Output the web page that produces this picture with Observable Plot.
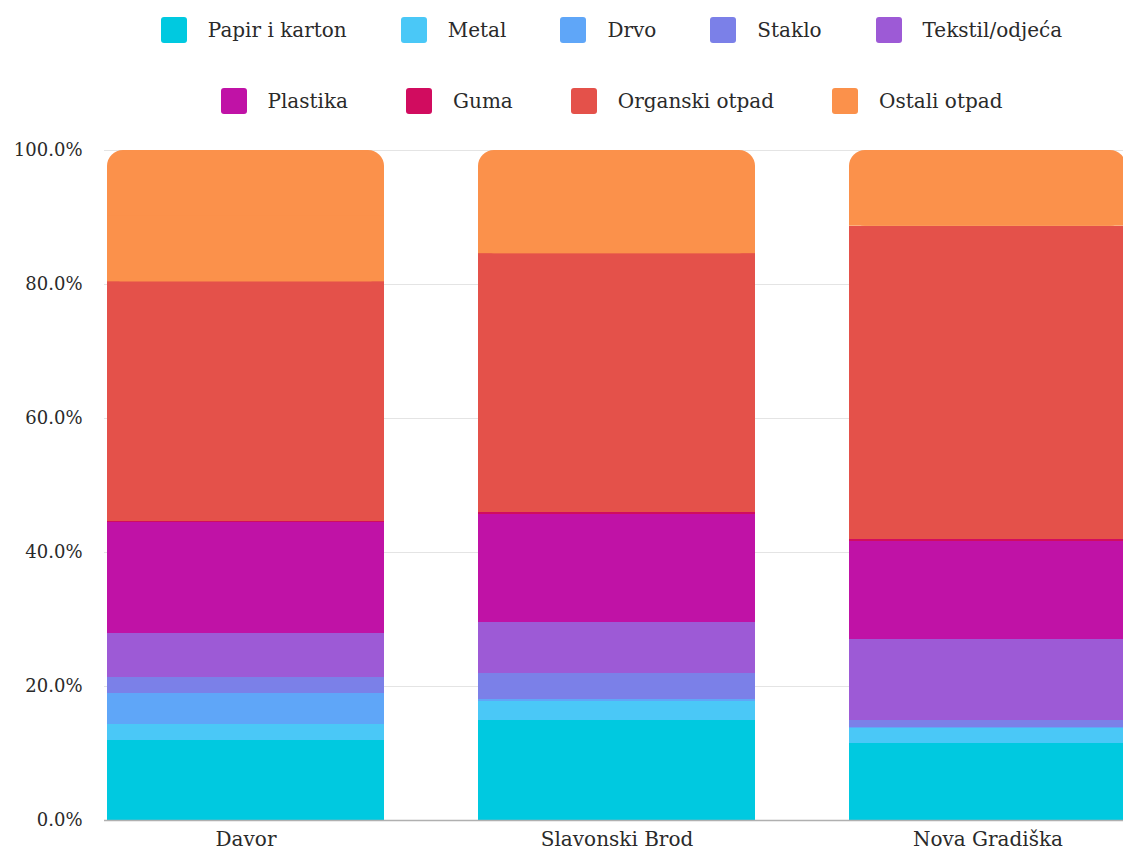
<!DOCTYPE html>
<html>
<head>
<meta charset="utf-8">
<script src="https://cdn.jsdelivr.net/npm/d3@7"></script>
<script src="https://cdn.jsdelivr.net/npm/@observablehq/plot@0.6"></script>
<style>
  html, body { margin: 0; padding: 0; background: #fff; overflow: hidden; }
  body { width: 1123px; height: 854px; font-family: "DejaVu Serif", serif; }
  #legend { height: 128px; box-sizing: border-box; padding-left: 100px; padding-top: 15px; }
  .row { display: flex; justify-content: center; align-items: center; gap: 58px; height: 30px; }
  .row.r1 { gap: 54px; }
  .row + .row { margin-top: 41px; }
  .item { display: flex; align-items: center; gap: 21px; font-size: 20px; color: #2a2a2a; white-space: nowrap; }
  .sw { width: 26px; height: 26px; border-radius: 3px; }
  #chart svg { display: block; overflow: visible; }
</style>
</head>
<body>
<div id="legend"></div>
<div id="chart"></div>
<script>
const cities = ["Davor", "Slavonski Brod", "Nova Gradiška"];
const categories = ["Papir i karton", "Metal", "Drvo", "Staklo", "Tekstil/odjeća", "Plastika", "Guma", "Organski otpad", "Ostali otpad"];
const colors = ["#00c9e0", "#4ac8f7", "#5fa6f8", "#7b80e8", "#9d5ad6", "#c012a6", "#d10c5f", "#e4514a", "#fb914b"];
// percent shares per city (Davor, Slavonski Brod, Nova Gradiška)
const papir    = [11.9, 14.9, 11.5];
const metal    = [2.5, 2.9, 2.2];
const drvo     = [4.6, 0.3, 0.2];
const staklo   = [2.3, 3.9, 1.0];
const tekstil  = [6.6, 7.6, 12.1];
const plastika = [16.6, 16.0, 14.7];
const guma     = [0.2, 0.3, 0.3];
const organski = [35.7, 38.7, 46.7];
const ostali   = [19.6, 15.4, 11.3];
const yTicks = [0, 20, 40, 60, 80, 100];

const series = [papir, metal, drvo, staklo, tekstil, plastika, guma, organski, ostali];

// legend
const legendEl = document.getElementById("legend");
[[0, 5], [5, 9]].forEach(([a, b], r) => {
  const row = document.createElement("div");
  row.className = "row r" + (r + 1);
  for (let i = a; i < b; i++) {
    const it = document.createElement("div");
    it.className = "item";
    it.innerHTML = `<span class="sw" style="background:${colors[i]}"></span><span>${categories[i]}</span>`;
    row.appendChild(it);
  }
  legendEl.appendChild(row);
});

// stacked table
const stackRows = [];
cities.forEach((city, ci) => {
  let acc = 0;
  categories.forEach((cat, k) => {
    const v = series[k][ci];
    stackRows.push({city, cat, y1: acc, y2: acc + v});
    acc += v;
  });
});
const innerRows = stackRows.filter(d => d.cat !== "Ostali otpad");
const topRows = stackRows.filter(d => d.cat === "Ostali otpad");

const chart = Plot.plot({
  width: 1123,
  height: 726,
  marginTop: 22,
  marginBottom: 34,
  marginLeft: 104,
  marginRight: 0,
  style: {fontFamily: "'DejaVu Serif', serif", color: "#2a2a2a", background: "transparent"},
  x: {type: "band", domain: cities, range: [106, 1127], paddingInner: 0.254, paddingOuter: 0, align: 0.5},
  y: {domain: [0, 100]},
  color: {domain: categories, range: colors},
  marks: [
    Plot.gridY(yTicks, {stroke: "#e4e4e4", strokeOpacity: 1}),
    Plot.barY(innerRows, {x: "city", y1: "y1", y2: "y2", fill: "cat", inset: 0, shapeRendering: "crispEdges"}),
    Plot.barY(topRows, {x: "city", y1: "y1", y2: "y2", fill: "cat", inset: 0, rx: 16}),
    Plot.barY(topRows, {x: "city", y1: "y1", y2: d => (d.y1 + d.y2) / 2, fill: "cat", inset: 0}),
    Plot.ruleY([0], {stroke: "#b0b0b0", strokeWidth: 1.5}),
    Plot.axisY(yTicks, {tickSize: 0, tickPadding: 22, fontSize: 18, tickFormat: d => d.toFixed(1) + "%", label: null, fill: "#2a2a2a"}),
    Plot.axisX({tickSize: 0, tickPadding: 11, fontSize: 20, label: null, fill: "#2a2a2a"})
  ]
});
document.getElementById("chart").appendChild(chart);
</script>
</body>
</html>
